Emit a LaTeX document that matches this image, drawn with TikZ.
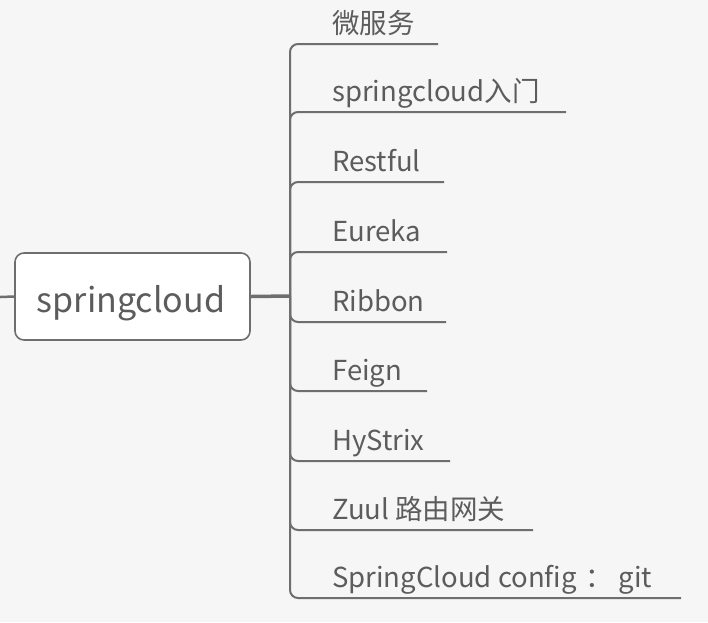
\documentclass[tikz,border=0pt]{standalone}
\usepackage{fontspec}
\setmainfont{Noto Sans CJK SC}
\definecolor{bg}{HTML}{F6F6F6}
\definecolor{linec}{HTML}{6E6E6E}
\definecolor{textc}{HTML}{5C5C5C}
\begin{document}
\begin{tikzpicture}[x=1pt,y=-1pt,
  centerbox/.style={draw=linec,line width=1.6pt,fill=white,rounded corners=9pt},
  centertext/.style={anchor=base,inner sep=0pt,text=textc,font=\fontsize{34}{40}\selectfont},
  leaf/.style={anchor=base west,inner sep=0pt,text=textc,font=\fontsize{27.5}{32}\selectfont},
  branch/.style={draw=linec,line width=2pt,rounded corners=8pt},
  trunkline/.style={draw=linec,line width=3.5pt}]
\useasboundingbox[fill=bg] (0,0) rectangle (708,622);
\coordinate (lefte) at (0,297);
\node[centerbox,minimum width=235pt,minimum height=87pt] (root) at (132.5,296.5) {};
\node[centertext] (rootlabel) at (131,312) {springcloud};
\coordinate (hub) at (290,296);
\draw[draw=linec,line width=2.5pt] (lefte) -- (root.west);
\draw[trunkline] (root.east) -- (hub);
\foreach \i/\y/\xe/\t in {1/44/438/微服务,2/112/566/springcloud入门,3/182/444/Restful,
  4/252/447/Eureka,5/322/446/Ribbon,6/391/427/Feign,7/461/450/HyStrix,
  8/530/533/Zuul 路由网关,9/598/681/SpringCloud config\kern0.3em： git}{
  \coordinate (e\i) at (\xe,\y);
  \node[leaf] (b\i) at (332,\y-10.5) {\t};
  \draw[branch] (hub) |- (e\i);
}
\end{tikzpicture}
\end{document}
